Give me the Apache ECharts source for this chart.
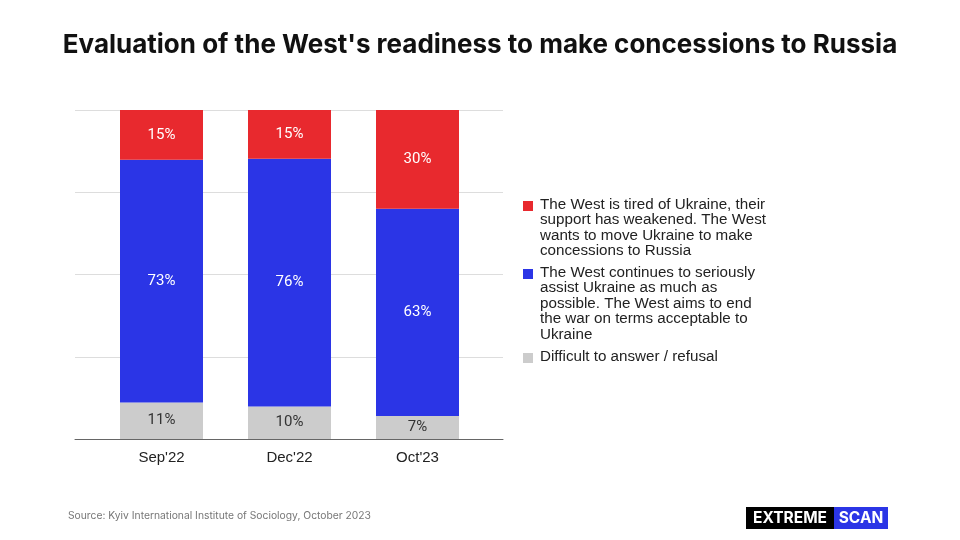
<!DOCTYPE html>
<html>
<head>
<meta charset="utf-8">
<script src="https://cdn.jsdelivr.net/npm/echarts@6/dist/echarts.min.js"></script>
<style>
  html, body { margin: 0; padding: 0; background: #fff; }
  #main { width: 960px; height: 540px; }
</style>
</head>
<body>
<div id="main"></div>
<script>
// survey waves
const categories = ["Sep'22", "Dec'22", "Oct'23"];

// answers, in % (as printed on the chart)
const tired = [15, 15, 30];
const assist = [73, 76, 63];
const difficult = [11, 10, 7];

const seriesNames = [
  'The West is tired of Ukraine, their\nsupport has weakened. The West\nwants to move Ukraine to make\nconcessions to Russia',
  'The West continues to seriously\nassist Ukraine as much as\npossible. The West aims to end\nthe war on terms acceptable to\nUkraine',
  'Difficult to answer / refusal'
];
const colors = ['#e8292e', '#2b35e6', '#cccccc'];

// the bars are drawn as shares of each wave's total (100% stacked)
const totals = categories.map((c, i) => tired[i] + assist[i] + difficult[i]);
const share = (arr) => arr.map((v, i) => ({ value: v / totals[i] * 100, raw: v }));

function barSeries(name, arr, color, textColor) {
  return {
    name: name,
    type: 'bar',
    stack: 'all',
    xAxisIndex: 1,
    yAxisIndex: 1,
    barWidth: 83,
    data: share(arr),
    itemStyle: { color: color },
    label: {
      show: true,
      position: 'inside',
      formatter: (p) => p.data.raw + '%',
      color: textColor,
      fontFamily: 'Roboto',
      fontSize: 15
    },
    emphasis: { disabled: true }
  };
}

// legend drawn by hand so the swatch sits on the first line
const legendTop = [197, 265, 349];
const legendItems = [];
seriesNames.forEach((name, i) => {
  legendItems.push({
    type: 'rect',
    shape: { x: 523, y: legendTop[i] + 4, width: 10, height: 10 },
    style: { fill: colors[i] }
  });
  legendItems.push({
    type: 'text',
    x: 540,
    y: legendTop[i],
    style: {
      text: name,
      fill: '#222',
      font: '15.2px "Liberation Sans", Arial, sans-serif',
      lineHeight: 15.5
    }
  });
});

const chart = echarts.init(document.getElementById('main'));
chart.setOption({
  animation: false,
  title: {
    text: "Evaluation of the West's readiness to make concessions to Russia",
    left: 'center',
    top: 27,
    textStyle: { fontFamily: 'Inter', fontWeight: 700, fontSize: 26, color: '#111' }
  },
  grid: [
    { left: 75, width: 428, top: 110, height: 329 },
    { left: 97.5, width: 384, top: 110, height: 329 }
  ],
  xAxis: [
    {
      type: 'value', gridIndex: 0, min: 0, max: 1,
      axisLine: { show: true, lineStyle: { color: '#666', width: 1 } },
      axisTick: { show: false }, axisLabel: { show: false }, splitLine: { show: false }
    },
    {
      type: 'category', gridIndex: 1, data: categories,
      axisLine: { show: false }, axisTick: { show: false },
      axisLabel: { color: '#222', fontSize: 15, fontFamily: '"Liberation Sans", Arial', margin: 11 }
    }
  ],
  yAxis: [
    {
      type: 'value', gridIndex: 0, min: 0, max: 100, interval: 25,
      axisLabel: { show: false }, axisLine: { show: false }, axisTick: { show: false },
      splitLine: { lineStyle: { color: '#dddddd' } }
    },
    {
      type: 'value', gridIndex: 1, min: 0, max: 100, show: false, splitLine: { show: false }
    }
  ],
  series: [
    barSeries(seriesNames[2], difficult, colors[2], '#333'),
    barSeries(seriesNames[1], assist, colors[1], '#fff'),
    barSeries(seriesNames[0], tired, colors[0], '#fff')
  ],
  graphic: legendItems.concat([
    {
      type: 'text', x: 68, y: 511,
      style: {
        text: 'Source: Kyiv International Institute of Sociology, October 2023',
        fill: '#777', font: '10.3px Inter, sans-serif'
      }
    },
    { type: 'rect', shape: { x: 746, y: 507, width: 88, height: 22 }, style: { fill: '#000' } },
    { type: 'rect', shape: { x: 834, y: 507, width: 54, height: 22 }, style: { fill: '#2b35e6' } },
    {
      type: 'text', x: 790, y: 518,
      style: { text: 'EXTREME', fill: '#fff', font: '700 15.5px Inter, sans-serif', align: 'center', verticalAlign: 'middle' }
    },
    {
      type: 'text', x: 861, y: 518,
      style: { text: 'SCAN', fill: '#fff', font: '700 15.5px Inter, sans-serif', align: 'center', verticalAlign: 'middle' }
    }
  ])
});
</script>
</body>
</html>
